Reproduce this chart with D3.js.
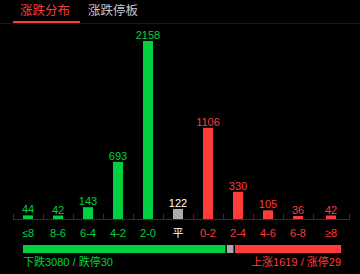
<!doctype html>
<html>
<head>
  <meta charset="utf-8">
  <style>
    html, body { margin: 0; padding: 0; background: #000; }
    svg { display: block; font-family: "Liberation Sans", Arial, "Noto Sans CJK SC", sans-serif; }
  </style>
  <script src="https://cdn.jsdelivr.net/npm/d3@7"></script>
</head>
<body>
  <script>
  // chart data
  var categories = ["≤8", "8-6", "6-4", "4-2", "2-0", "平", "0-2", "2-4", "4-6", "6-8", "≥8"];
  var values = [44, 42, 143, 693, 2158, 122, 1106, 330, 105, 36, 42];
  var tabs = ["涨跌分布", "涨跌停板"];
  var summary = [3080, 122, 1619];   // down, flat, up
  var limitDown = 30, limitUp = 29;

  var green = "#00d23f", red = "#ff3b3b", grey = "#aaaaaa";

  var svgW = 360, svgH = 274;
  var svg = d3.select("body").append("svg")
    .attr("width", svgW)
    .attr("height", svgH);

  // tabs on top
  svg.append("line")
    .attr("x1", 0).attr("x2", svgW)
    .attr("y1", 23.5).attr("y2", 23.5)
    .attr("stroke", "#3c0a0e");
  svg.selectAll("text.tab")
    .data(tabs)
    .enter()
    .append("text")
    .attr("class", "tab")
    .attr("x", function(d, i) { return i == 0 ? 20 : 88; })
    .attr("y", 15)
    .attr("font-size", "12.5px")
    .attr("fill", function(d, i) { return i == 0 ? "#ff3b3b" : "#c4c8cc"; })
    .text(function(d) { return d; });
  svg.append("rect")
    .attr("x", 13).attr("y", 21)
    .attr("width", 67).attr("height", 2)
    .attr("fill", "#ff3b3b");

  // bars
  var axisY = 219;
  var x = d3.scaleBand().domain(categories).range([13, 343]);
  var axisEnd = 349;
  var y = d3.scaleLinear().domain([0, d3.max(values)]).range([axisY, 41]);

  function colorOf(i) { return i < 5 ? green : (i == 5 ? grey : red); }
  function bound(i) { return i < categories.length ? x(categories[i]) : axisEnd; }
  function center(i) { return (bound(i) + bound(i + 1)) / 2; }

  svg.selectAll("rect.bar")
    .data(values)
    .enter()
    .append("rect")
    .attr("class", "bar")
    .attr("x", function(d, i) { return center(i) - 5; })
    .attr("y", function(d) { return y(d); })
    .attr("width", 10)
    .attr("height", function(d) { return axisY - y(d); })
    .attr("fill", function(d, i) { return colorOf(i); });

  svg.selectAll("text.val")
    .data(values)
    .enter()
    .append("text")
    .attr("class", "val")
    .attr("x", function(d, i) { return center(i); })
    .attr("y", function(d) { return y(d) - 2; })
    .attr("text-anchor", "middle")
    .attr("font-size", "11px")
    .attr("fill", function(d, i) { return i == 5 ? "#ffffff" : colorOf(i); })
    .text(function(d) { return d; });

  // axis line + ticks pointing up
  svg.append("line")
    .attr("x1", 13).attr("x2", axisEnd)
    .attr("y1", axisY + 0.5).attr("y2", axisY + 0.5)
    .attr("stroke", "#6a1520");
  svg.selectAll("line.tick")
    .data(d3.range(categories.length + 1))
    .enter()
    .append("line")
    .attr("class", "tick")
    .attr("x1", function(i) { return Math.round(bound(i)) + 0.5; })
    .attr("x2", function(i) { return Math.round(bound(i)) + 0.5; })
    .attr("y1", axisY - 5).attr("y2", axisY + 1)
    .attr("stroke", "#6a1520");

  svg.selectAll("text.cat")
    .data(categories)
    .enter()
    .append("text")
    .attr("class", "cat")
    .attr("x", function(d, i) { return center(i); })
    .attr("y", 237)
    .attr("text-anchor", "middle")
    .attr("font-size", "11px")
    .attr("fill", function(d, i) { return i == 5 ? "#ffffff" : colorOf(i); })
    .text(function(d) { return d; });

  // summary bar
  var total = d3.sum(summary);
  var gap = 1.5;
  var sx = d3.scaleLinear().domain([0, total]).range([23, 341]);
  var starts = [0, summary[0], summary[0] + summary[1]];
  svg.selectAll("rect.sum")
    .data(summary)
    .enter()
    .append("rect")
    .attr("class", "sum")
    .attr("x", function(d, i) { return sx(starts[i]) + (i > 0 ? gap / 2 : 0); })
    .attr("y", 245)
    .attr("width", function(d, i) {
      var w = sx(starts[i] + d) - sx(starts[i]);
      return w - (i == 1 ? gap : gap / 2);
    })
    .attr("height", 8)
    .attr("fill", function(d, i) { return [green, grey, red][i]; });

  svg.append("text")
    .attr("x", 23).attr("y", 266)
    .attr("font-size", "11px")
    .attr("fill", green)
    .text("下跌" + summary[0] + " / 跌停" + limitDown);
  svg.append("text")
    .attr("x", 341).attr("y", 266)
    .attr("text-anchor", "end")
    .attr("font-size", "11px")
    .attr("fill", red)
    .text("上涨" + summary[2] + " / 涨停" + limitUp);
  </script>
</body>
</html>
